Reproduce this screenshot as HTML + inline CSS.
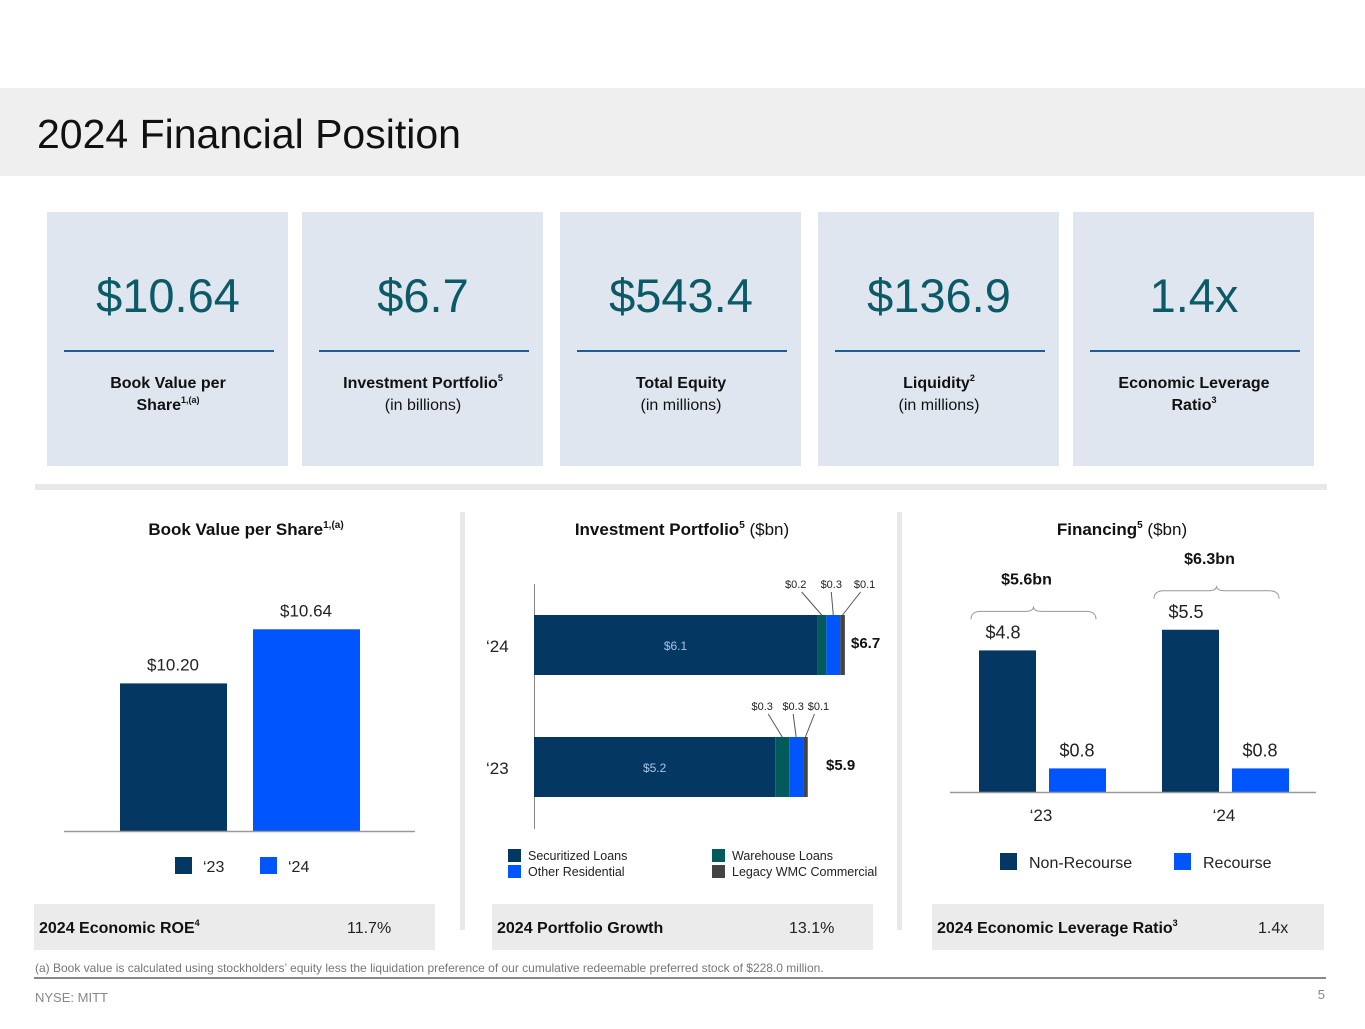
<!DOCTYPE html>
<html><head><meta charset="utf-8"><style>
body{margin:0;width:1365px;height:1024px;overflow:hidden;background:#fff;font-family:"Liberation Sans",sans-serif;}
</style></head><body>
<svg id="s" width="1365" height="1024" viewBox="0 0 1365 1024" xmlns="http://www.w3.org/2000/svg" font-family="Liberation Sans, sans-serif">
<rect x="0" y="88" width="1365" height="88" fill="#efefef"/>
<text x="37" y="148" font-size="41" fill="#111">2024 Financial Position</text>
<g id="cards"></g>
<rect x="35" y="484" width="1292" height="6" fill="#e8e8e8"/>
<rect x="460" y="512" width="5" height="418" fill="#e8e8e8"/>
<rect x="897" y="512" width="5" height="418" fill="#e8e8e8"/>

<text x="246" y="535" text-anchor="middle" font-size="17" font-weight="bold" fill="#111">Book Value per Share<tspan font-size="10" dy="-7">1,(a)</tspan></text>
<text x="682" y="535" text-anchor="middle" font-size="17" fill="#111"><tspan font-weight="bold">Investment Portfolio</tspan><tspan font-size="10" dy="-7" font-weight="bold">5</tspan><tspan dy="7"> ($bn)</tspan></text>
<text x="1122" y="535" text-anchor="middle" font-size="17" fill="#111"><tspan font-weight="bold">Financing</tspan><tspan font-size="10" dy="-7" font-weight="bold">5</tspan><tspan dy="7"> ($bn)</tspan></text>

<g id="bv"></g>
<g id="ip"></g>
<g id="fin"></g>

<rect x="34" y="904" width="401" height="46" fill="#ebebeb"/>
<text x="39" y="933" font-size="16" font-weight="bold" fill="#111">2024 Economic ROE<tspan font-size="9" dy="-7">4</tspan></text>
<text x="347" y="933" font-size="16" fill="#222">11.7%</text>
<rect x="492" y="904" width="381" height="46" fill="#ebebeb"/>
<text x="497" y="933" font-size="16" font-weight="bold" fill="#111">2024 Portfolio Growth</text>
<text x="789" y="933" font-size="16" fill="#222">13.1%</text>
<rect x="932" y="904" width="392" height="46" fill="#ebebeb"/>
<text x="937" y="933" font-size="16" font-weight="bold" fill="#111">2024 Economic Leverage Ratio<tspan font-size="9" dy="-7">3</tspan></text>
<text x="1258" y="933" font-size="16" fill="#222">1.4x</text>

<text x="35" y="972" font-size="12" fill="#777">(a) Book value is calculated using stockholders’ equity less the liquidation preference of our cumulative redeemable preferred stock of $228.0 million.</text>
<rect x="34" y="977" width="1292" height="2" fill="#888"/>
<text x="35" y="1002" font-size="13" fill="#888">NYSE: MITT</text>
<text x="1325" y="999" font-size="13" fill="#888" text-anchor="end">5</text>
</svg>
<script>
const NS="http://www.w3.org/2000/svg";
function mk(parent,tag,attrs,txt){const e=document.createElementNS(NS,tag);for(const k in attrs)e.setAttribute(k,attrs[k]);if(txt!=null)e.textContent=txt;parent.appendChild(e);return e;}

// KPI cards
const cardValues=["$10.64","$6.7","$543.4","$136.9","1.4x"];
const cardX=[47,302,560,818,1073];
const cardLabels=[["Book Value per","Share","1,(a)"],["Investment Portfolio","(in billions)","5"],["Total Equity","(in millions)",""],["Liquidity","(in millions)","2"],["Economic Leverage","Ratio","3"]];
const cards=document.getElementById('cards');
cardValues.forEach((v,i)=>{
  const x=cardX[i],cx=x+121;
  let r=mk(cards,'rect',{x:x,y:212,width:241,height:254,fill:'#dfe6ef'});
  
  
  let t=mk(cards,'text',{x:cx,y:312,'text-anchor':'middle','font-size':47,fill:'#0b5a66'},v);
  
  
  let l=mk(cards,'rect',{x:x+17,y:350,width:210,height:2,fill:'#1a5e94'});
  
  
  const lb=cardLabels[i];
  const bold2=(i==0||i==4);
  let a=mk(cards,'text',{x:cx,y:388,'text-anchor':'middle','font-size':16,'font-weight':'bold',fill:'#111'},lb[0]);
  if(!bold2&&lb[2]){mk(a,'tspan',{'font-size':9,dy:-7},lb[2]);}
  
  
  let b=mk(cards,'text',{x:cx,y:410,'text-anchor':'middle','font-size':16,'font-weight':bold2?'bold':'normal',fill:'#111'},lb[1]);
  if(bold2&&lb[2]){mk(b,'tspan',{'font-size':9,dy:-7},lb[2]);}
  
  
});

// Book value chart
const bvYears=["‘23","‘24"];
const bvValues=[10.20,10.64];
const bvLabels=["$10.20","$10.64"];
const bvColors=["#053763","#0055ff"];
const bv=document.getElementById('bv');
const bvBase=831,bvMin=9.0,bvScale=123;
const bvY=v=>bvBase-(v-bvMin)*bvScale;
const bvX=i=>120+i*133;
bvValues.forEach((v,i)=>{
  let r=mk(bv,'rect',{x:bvX(i),y:bvY(v),width:107,height:bvBase-bvY(v),fill:bvColors[i]});
  
  
  let t=mk(bv,'text',{x:bvX(i)+53,y:bvY(v)-13,'text-anchor':'middle','font-size':17,fill:'#222'},bvLabels[i]);
  
  
  let s=mk(bv,'rect',{x:175+i*85,y:857,width:17,height:17,fill:bvColors[i]});
  
  
  let lt=mk(bv,'text',{x:203+i*85,y:872,'font-size':16,fill:'#222'},bvYears[i]);
  
  
});
let bva=mk(bv,'line',{x1:64,x2:415,y1:831.5,y2:831.5,stroke:'#999','stroke-width':1.5});



// Investment portfolio chart
const ipYears=["‘24","‘23"];
const ipSeries=["Securitized Loans","Warehouse Loans","Other Residential","Legacy WMC Commercial"];
const ipColors=["#053763","#035a5a","#0055ff","#444444"];
const ip24=[6.1,0.2,0.3,0.1];
const ip23=[5.2,0.3,0.3,0.1];
const ipTotals=["$6.7","$5.9"];
const ip=document.getElementById('ip');
const ipX0=534,ipScale=46.4;
const ipRows=[ip24,ip23];
const ipTop=[615,737];
let ax=mk(ip,'line',{x1:534.5,x2:534.5,y1:584,y2:829,stroke:'#888','stroke-width':1});


ipRows.forEach((row,ri)=>{
  let x=ipX0;const y=ipTop[ri],h=60;
  let yl=mk(ip,'text',{x:486,y:y+37,'font-size':17,fill:'#222'},ipYears[ri]);
  
  
  const segEnds=[];
  row.forEach((v,si)=>{
    const w=v*ipScale;
    let r=mk(ip,'rect',{x:x,y:y,width:w,height:h,fill:ipColors[si]});
    
    
    segEnds.push([x,w]);
    x+=w;
  });
  let inl=mk(ip,'text',{x:ipX0+row[0]*ipScale/2,y:y+35,'text-anchor':'middle','font-size':12,fill:'#a9c4e6'},'$'+row[0].toFixed(1));
  
  
  const offs=ri==0?[-26,-2,22]:[-20,-3,13];
  const ly=ri==0?588:710;
  for(let k=1;k<4;k++){
    const [sx,sw]=segEnds[k];const mx=sx+sw/2;const tx=mx+offs[k-1];
    let ln=mk(ip,'line',{x1:mx,y1:y,x2:tx+ (k==1?6:(k==3?-4:0)),y2:ly+4,stroke:'#555','stroke-width':1});
    
    
    let ct=mk(ip,'text',{x:tx,y:ly,'text-anchor':'middle','font-size':11,fill:'#222'},'$'+row[k].toFixed(1));
    
    
  }
  let tt=mk(ip,'text',{x:ri==0?851:826,y:y+33,'font-size':15,'font-weight':'bold',fill:'#111'},ipTotals[ri]);
  
  
});
const legPos=[[508,849],[712,849],[508,865],[712,865]];
[0,1,2,3].forEach(si=>{
  const [lx,ly]=legPos[si];
  let s=mk(ip,'rect',{x:lx,y:ly,width:13,height:13,fill:ipColors[si]});
  
  
  let t=mk(ip,'text',{x:lx+20,y:ly+11,'font-size':12.5,fill:'#222'},ipSeries[si]);
  
  
});

// Financing chart
const finYears=["‘23","‘24"];
const finNonRecourse=[4.8,5.5];
const finRecourse=[0.8,0.8];
const finTotals=["$5.6bn","$6.3bn"];
const fin=document.getElementById('fin');
const fBase=792,fScale=29.5;
const fY=v=>fBase-v*fScale;
const fGX=[979,1162];
finYears.forEach((yr,i)=>{
  const gx=fGX[i];
  [[finNonRecourse[i],'#053763',0],[finRecourse[i],'#0055ff',70]].forEach(([v,c,o])=>{
    let r=mk(fin,'rect',{x:gx+o,y:fY(v),width:57,height:v*fScale,fill:c});
    
    
    let t=mk(fin,'text',{x:gx+o+(o?28:24),y:fY(v)-12,'text-anchor':'middle','font-size':18,fill:'#222'},'$'+v.toFixed(1));
    
    
  });
  let xl=mk(fin,'text',{x:gx+62,y:821,'text-anchor':'middle','font-size':17,fill:'#222'},yr);
  
  
  const top=fY(finNonRecourse[i])-39, bx0=gx-8, bx1=gx+117, bm=(bx0+bx1)/2;
  let br=mk(fin,'path',{d:`M${bx0} ${top+8} Q${bx0} ${top} ${bx0+10} ${top} L${bm-8} ${top} Q${bm} ${top} ${bm} ${top-5} Q${bm} ${top} ${bm+8} ${top} L${bx1-10} ${top} Q${bx1} ${top} ${bx1} ${top+8}`,fill:'none',stroke:'#999','stroke-width':1});
  
  
  let tt=mk(fin,'text',{x:bm-7,y:top-27,'text-anchor':'middle','font-size':16,'font-weight':'bold',fill:'#111'},finTotals[i]);
  
  
});
let fa=mk(fin,'line',{x1:950,x2:1316,y1:792.5,y2:792.5,stroke:'#999','stroke-width':1.5});


[["Non-Recourse",'#053763',1000],["Recourse",'#0055ff',1174]].forEach(([n,c,x])=>{
  let s=mk(fin,'rect',{x:x,y:853,width:17,height:17,fill:c});
  
  
  let t=mk(fin,'text',{x:x+29,y:868,'font-size':16,fill:'#222'},n);
  
  
});
</script>
</body></html>
